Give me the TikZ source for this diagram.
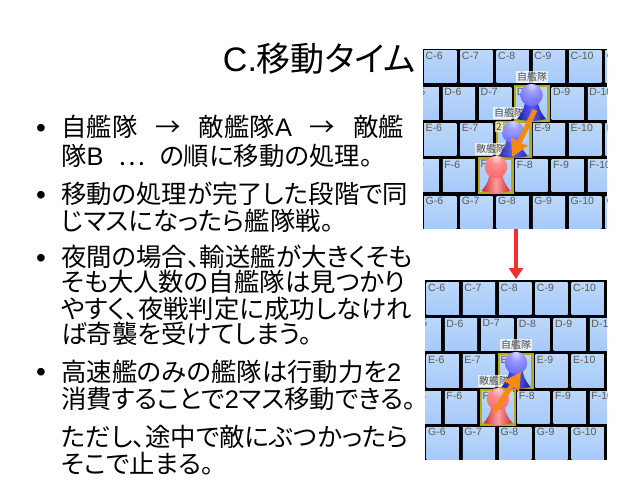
\documentclass[tikz,border=0pt]{standalone}
\usepackage{fontspec}
\setmainfont{Noto Sans CJK JP}[RawFeature=+palt]
\newfontfamily\latf{Liberation Sans}
\usetikzlibrary{arrows.meta}
\definecolor{cellA}{HTML}{BCD8FA}
\definecolor{cellB}{HTML}{A6C9FA}
\definecolor{hilite}{HTML}{B4AC10}
\definecolor{orangeA}{HTML}{F58A10}
\definecolor{redA}{HTML}{F03030}
\definecolor{bluD}{HTML}{1A1AA8}
\definecolor{bluM}{HTML}{5A5AF0}
\definecolor{redD}{HTML}{C82828}
\definecolor{redM}{HTML}{FF9C9C}
\pgfdeclareradialshading{bball}{\pgfpoint{0bp}{22bp}}{color(0bp)=(white!85!blue); color(14bp)=(white!60!blue); color(40bp)=(white!40!blue); color(62bp)=(white!15!blue); color(78bp)=(blue!75!black); color(100bp)=(blue!60!black)}
\pgfdeclareradialshading{rball}{\pgfpoint{0bp}{22bp}}{color(0bp)=(white!85!red); color(14bp)=(white!55!red); color(40bp)=(white!40!red); color(62bp)=(white!15!red); color(75bp)=(red!80!black); color(100bp)=(red!80!black)}
\tikzset{x=1pt,y=-1pt,
  line/.style={anchor=base west,inner sep=0pt,font=\fontsize{25.4}{25.4}\selectfont,text=black},
  bul/.style={anchor=base west,inner sep=0pt,font=\latf\fontsize{28}{28}\selectfont},
  clab/.style={anchor=north west,inner sep=0pt,font=\latf\fontsize{10.5}{10.5}\selectfont,text=black!65},
  unit/.style={inner sep=1pt,fill=white,fill opacity=.75,text opacity=1,text=black!70,font=\fontsize{10}{10}\selectfont},
  cellbox/.style={top color=cellA,bottom color=cellB,draw=none},
  hl/.style={draw=hilite,line width=2.5pt},
  move/.style={draw=orangeA,line width=5pt,-{Stealth[inset=1pt,length=17pt,width=18pt]}},
}
% row: #1 letter, #2 y top, #3 x of first cell, #4 first number, #5 last number
\newcommand{\gridrow}[5]{%
  \foreach \n [count=\k from 0] in {#4,...,#5}{%
    \pgfmathsetmacro{\xa}{#3+36.25*\k}%
    \path[cellbox] (\xa,#2) rectangle +(32.3,32.3);
    \node[clab] (lab#1\n) at (\xa+1.5,#2+1) {#1-\n};
  }%
}
% pawn: #1 x, #2 y of head centre, #3 mid colour, #4 dark colour, #5 ball shading, #6 opacity
\newcommand{\pawn}[6]{%
  \begin{scope}[shift={(#1,#2)},opacity=#6]
    \path[left color=#4,right color=#4,middle color=#3]
      (-6,5) .. controls (-7,14) and (-11,20) .. (-14.5,24)
      .. controls (-6,26.5) and (6,26.5) .. (14.5,24)
      .. controls (11,20) and (7,14) .. (6,5) -- cycle;
    \path[shading=#5] (0,0) circle[radius=11.2];
  \end{scope}%
}
\begin{document}
\begin{tikzpicture}
\useasboundingbox[fill=white] (0,0) rectangle (639,480);
% title
\node[anchor=base east,inner sep=0pt,font=\fontsize{34}{34}\selectfont] (title) at (416,71) {{\latf C.}移動タイム};
% text
\node[bul] (b1) at (36,137) {•};
\node[line] (t1) at (61,136.5) {自艦隊\hspace{18pt}→\hspace{18pt}敵艦隊{\latf A}\hspace{18pt}→\hspace{18pt}敵艦};
\node[line] (t2) at (61,165.5) {隊{\latf B}\hspace{14.5pt}…\hspace{14.5pt}の順に移動の処理。};
\node[bul] (b2) at (36,204) {•};
\node[line] (t3) at (61,203.5) {移動の処理が完了した段階で同};
\node[line] (t4) at (61,230.5) {じマスになったら艦隊戦。};
\node[bul] (b3) at (36,267) {•};
\node[line] (t5) at (61,266.5) {夜間の場合、輸送艦が大きくそも};
\node[line] (t6) at (61,291.5) {そも大人数の自艦隊は見つかり};
\node[line] (t7) at (61,318.5) {やすく、夜戦判定に成功しなけれ};
\node[line] (t8) at (61,343.5) {ば奇襲を受けてしまう。};
\node[bul] (b4) at (36,381) {•};
\node[line] (t9) at (61,381.5) {高速艦のみの艦隊は行動力を{\latf 2}};
\node[line] (t10) at (61,408.5) {消費することで{\latf 2}マス移動できる。};
\node[line] (t11) at (61,446.5) {ただし、途中で敵にぶつかったら};
\node[line] (t12) at (61,473.5) {そこで止まる。};
% top panel
\begin{scope}
  \clip (423,49) rectangle (607,229);
  \fill[black] (423,49) rectangle (607,229);
  \gridrow{C}{50.5}{424}{6}{11}
  \gridrow{D}{87}{406.5}{5}{10}
  \gridrow{E}{123.3}{424}{6}{11}
  \gridrow{F}{159.5}{406.5}{5}{10}
  \gridrow{G}{196}{424}{6}{11}
  \draw[hl] (515,86) rectangle (548.5,120.5);
  \draw[hl] (497,122) rectangle (530.5,156.5);
  \draw[hl] (479,158.5) rectangle (512.5,193);
  \node[unit] (u1) at (532,77) {自艦隊};
  \node[unit] (u3) at (491,149) {敵艦隊};
  \pawn{513}{132}{bluM}{bluD}{bball}{.9}
  \pawn{496}{167}{redM}{redD}{rball}{1}
  \node[unit] (u2) at (513,113) {自艦隊 2};
  \node[unit,fill=yellow!30] (u4) at (499,127) {2};
  \pawn{531.5}{95}{bluM}{bluD}{bball}{1}
  \coordinate (m1a) at (535,110);
  \coordinate (m1b) at (512,157);
  \draw[move] (m1a) -- (m1b);
\end{scope}
% bottom panel
\begin{scope}
  \clip (425,280) rectangle (607,460);
  \fill[black] (425,280) rectangle (607,460);
  \gridrow{C}{282.5}{426.5}{6}{11}
  \gridrow{D}{318.5}{408.5}{5}{10}
  \gridrow{E}{354.8}{426.5}{6}{11}
  \gridrow{F}{391}{408.5}{5}{10}
  \gridrow{G}{427}{426.5}{6}{11}
  \draw[hl] (499,354) rectangle (532.5,388);
  \draw[hl] (481,390) rectangle (515,424.5);
  \node[unit] (v1) at (516,345) {自艦隊};
  \node[unit] (v2) at (494,381) {敵艦隊};
  \pawn{516}{363}{bluM}{bluD}{bball}{1}
  \pawn{498}{399}{redM}{redD}{rball}{.95}
  \coordinate (m2a) at (494,412);
  \coordinate (m2b) at (521,372);
  \draw[move] (m2a) -- (m2b);
\end{scope}
% red arrow between panels
\coordinate (pa) at (516,229);
\coordinate (pb) at (516,279);
\draw[draw=redA,line width=4.5pt,-{Stealth[inset=0pt,length=11pt,width=14pt]}] (pa) -- (pb);
\end{tikzpicture}
\end{document}
